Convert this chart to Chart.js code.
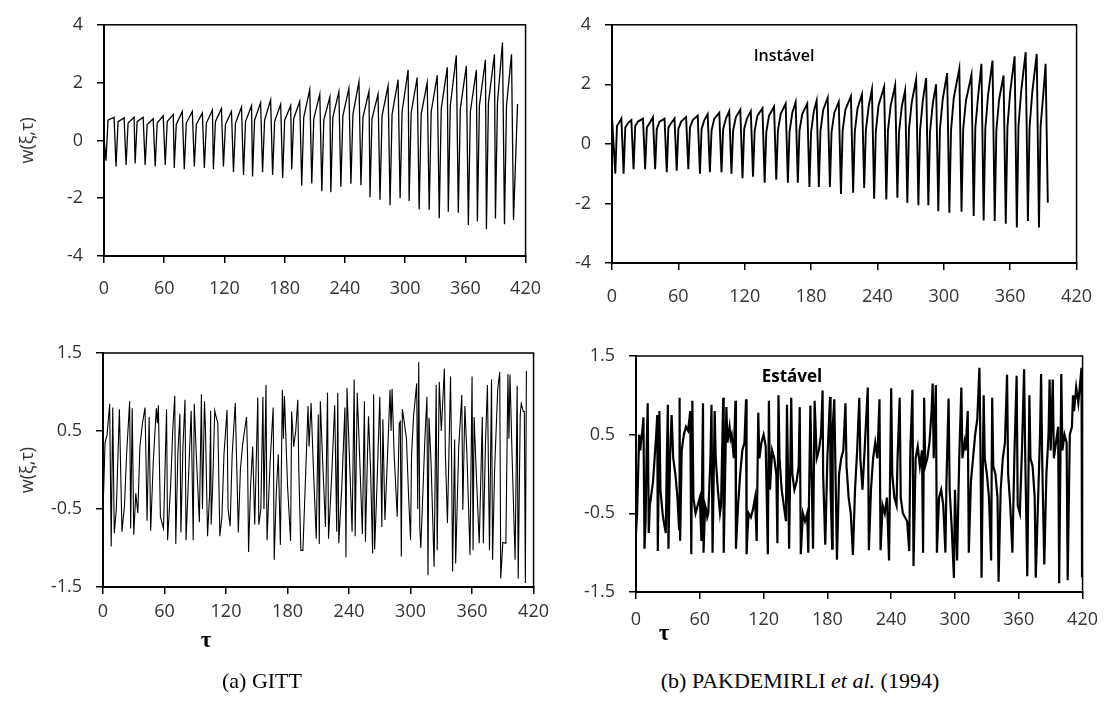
<!DOCTYPE html>
<html lang="pt">
<head>
<meta charset="UTF-8">
<title>w(ξ,τ) - GITT x PAKDEMIRLI et al. (1994)</title>
<script src="https://cdn.jsdelivr.net/npm/chart.js"></script>
<style>
  body { margin: 0; background: #fff; }
  #page { position: relative; width: 1108px; height: 705px; overflow: hidden; }
  #page canvas { position: absolute; }
  .lbl { position: absolute; white-space: nowrap; transform: translate(-50%, -50%); color: #000; }
  .note { font-family: "Open Sans", sans-serif; font-size: 16px; }
  .tau { font-family: "Liberation Serif", serif; font-weight: bold; font-size: 23px; }
  .cap { font-family: "Liberation Serif", serif; font-size: 22px; }
</style>
</head>
<body>
<div id="page">
  <canvas id="cA" width="556" height="310" style="left:0;top:0"></canvas>
  <canvas id="cB" width="552" height="310" style="left:556px;top:0"></canvas>
  <canvas id="cC" width="556" height="310" style="left:0;top:320px"></canvas>
  <canvas id="cD" width="552" height="310" style="left:556px;top:320px"></canvas>

  <div class="lbl note" style="left:784px;top:55px;font-weight:600">Instável</div>
  <div class="lbl note" style="left:792px;top:375px;font-weight:700;font-size:17px">Estável</div>
  <div class="lbl tau" style="left:206px;top:640px">τ</div>
  <div class="lbl tau" style="left:664px;top:633px">τ</div>
  <div class="lbl cap" style="left:262px;top:681px">(a) GITT</div>
  <div class="lbl cap" style="left:800px;top:681px">(b) PAKDEMIRLI <i>et al.</i> (1994)</div>
</div>

<script>
// axis ticks
const xTicks = [0, 60, 120, 180, 240, 300, 360, 420];
const yTicksTop = [-4, -2, 0, 2, 4];
const yTicksBottom = [-1.5, -0.5, 0.5, 1.5];

// (a) GITT - instavel
const tauA = [0,
  2,4,10, 12,14,20, 22,24,30, 31,33,39, 41,43,49, 51,53,59, 61,63,69,
  70,72,78, 80,82,88, 90,92,98, 100,102,108, 109,111,117, 119,121,127,
  129,131,137, 139,141,147, 148,150,156, 158,160,166, 168,170,176,
  178,180,186, 187,189,195, 197,199,205, 207,209,215, 217,219,225,
  226,228,234, 236,238,244, 246,248,254, 256,258,264, 265,267,273,
  275,277,283, 285,287,293, 295,297,303, 304,306,312, 314,316,322,
  324,326,332, 334,336,342, 343,345,351, 353,355,361, 363,365,371,
  372,374,380, 381,383,389, 390,392,397, 399,401,406,
  408,412];
const wA = [0.1,
  -0.70,0.70,0.80, -0.90,0.65,0.78, -0.85,0.60,0.80, -0.80,0.65,0.80, -0.85,0.55,0.75,
  -0.90,0.60,0.85, -0.85,0.65,0.90, -0.95,0.55,1.00, -1.00,0.60,1.00, -0.90,0.55,0.95,
  -0.95,0.60,1.05, -1.00,0.65,1.10, -0.90,0.55,1.00, -1.10,0.60,1.15, -1.20,0.65,1.20,
  -1.25,0.70,1.30, -1.10,0.70,1.40, -1.20,0.65,1.25, -1.30,0.70,1.20, -1.00,0.75,1.35,
  -1.57,0.80,1.76, -1.49,0.75,1.60, -1.76,0.70,1.50, -1.79,0.80,1.68, -1.60,0.85,1.80,
  -1.50,0.90,2.03, -1.55,0.80,1.70, -1.97,0.75,1.60, -2.05,0.85,1.88, -2.24,0.90,2.10,
  -2.00,1.00,2.44, -2.10,0.95,2.17, -2.39,0.90,2.00, -2.40,1.00,2.25, -2.69,1.10,2.53,
  -2.47,1.20,2.94, -2.50,1.10,2.58, -2.93,1.00,2.44, -2.81,1.20,2.79, -3.07,1.30,2.98,
  -2.70,1.30,3.39, -2.90,1.20,2.98,
  -2.75,1.26];

// (b) PAKDEMIRLI - instavel
const tauB = [0,
  3,4.5,7,8.5, 10.5,12,14.5,17.5, 19.5,21,23.5,28, 30,31.5,34,37, 39,40.5,43,47.5,
  49.5,51,53.5,56.5, 58.5,60,62.5,67, 69,70.5,73,77.5, 79.5,81,83.5,86.5, 88.5,90,92.5,97,
  99,100.5,103,106, 108,109.5,112,116, 118,119.5,122,125.5, 127.5,129,131.5,136,
  138,139.5,142,146.5, 148.5,150,152.5,157, 159,160.5,163,166, 168,169.5,172,176.5,
  178.5,180,182.5,185, 187,188.5,191,195, 197,198.5,201,205, 207,208.5,211,216,
  218,219.5,222,226, 228,229.5,232,235, 237,238.5,241,246, 248,249.5,252,256,
  258,259.5,262,265, 267,268.5,271,275, 277,278.5,281,284, 286,287.5,290,293,
  295,296.5,299,303, 305,306.5,309,314, 316,317.5,320,325, 327,328.5,331,334,
  336,337.5,340,344, 346,347.5,350,354, 356,357.5,360,364, 366,367.5,370,374,
  376,377.5,380,384, 386,387.5,390,392,
  394];
const wB = [0.9,
  -1.00,0.60,0.75,0.85, -1.00,0.55,0.70,0.80, -0.85,0.60,0.75,0.85, -0.85,0.55,0.70,0.90,
  -0.85,0.50,0.75,0.85, -0.95,0.55,0.70,0.85, -0.90,0.50,0.75,0.90, -0.85,0.55,0.80,0.95,
  -1.00,0.50,0.80,1.00, -0.95,0.45,0.85,1.05, -0.95,0.50,0.85,1.10, -1.00,0.45,0.90,1.15,
  -1.15,0.50,0.85,1.10, -1.10,0.45,0.95,1.20, -1.30,0.40,0.95,1.25, -1.20,0.45,1.00,1.35,
  -1.30,0.40,1.05,1.40, -1.30,0.45,1.00,1.35, -1.45,0.40,1.10,1.45, -1.45,0.45,1.15,1.55,
  -1.45,0.40,1.05,1.41, -1.68,0.45,1.15,1.60, -1.64,0.40,1.20,1.66, -1.48,0.45,1.25,1.83,
  -1.84,0.40,1.30,1.91, -1.87,0.45,1.30,1.97, -1.81,0.40,1.25,1.80, -1.98,0.50,1.40,2.17,
  -2.06,0.45,1.45,2.21, -2.06,0.40,1.35,2.00, -2.26,0.50,1.50,2.38, -2.31,0.45,1.55,2.52,
  -2.28,0.50,1.45,2.32, -2.42,0.55,1.60,2.69, -2.57,0.50,1.65,2.80, -2.59,0.45,1.50,2.30,
  -2.68,0.55,1.75,2.94, -2.81,0.60,1.80,3.08, -2.59,0.55,1.75,3.02, -2.81,0.60,1.70,2.69,
  -1.98];

// (a) GITT - estavel
const tauC = [0,2,4,6.5,8,9.5,11,13,16,18.5,21,23,26,27,28.5,30,32,34,36,38.5,41,43,45,46.5,49,
  52,53,54,56,59,62,63,66,68,70,71,73,75,76,78,80,81,84,86,88,89,91,94,96,97,99,100,102,104,
  105,105.5,107,109,110,112,114,116,118,121,122,124,126,129,130,132,134,136,138,140,141,142,
  144,146,148,151,152,154,156,157,159,160,163,166,167,
  169,171,173,175,176,177,180,183,184,186,188,190,191,193,195,197,200,201,203,205,208,210,
  211,212,214,217,219,220,223,226,228,229,230,233,236,237,238,240,243,245,246,248,250,253,
  255,256,258,259,261,263,264,265,267,270,272,273,275,277,280,281,282,284,287,289,290,291,
  292,294,296,298,300,301,303,306,307,308,309,310,312,314,316,317,318,320,323,325,326,328,
  330,333,334,336,339,340,341,343,344,347,350,351,353,355,358,360,361,362,364,367,370,371,
  373,375,377,379,380,382,385,387,388,390,393,395,396,397,399,402,404,405,407,408,410,411,
  412,413];
const wC = [-0.55,0.35,0.45,0.85,-0.98,0.8,-0.81,-0.5,0.78,-0.79,-0.45,0.2,0.88,-0.75,0.79,
  -0.83,-0.3,-0.55,0.3,0.6,0.8,-0.65,0.68,-0.78,0.1,0.79,0.6,0.83,-0.6,-0.75,0.78,-0.9,-0.2,
  0.5,0.95,-0.95,0.2,0.72,-0.8,0.3,0.9,-0.9,0.1,0.76,-0.9,0.85,0.2,-0.67,0.97,-0.5,0.88,0.5,
  -0.85,-0.3,0.76,-0.7,-0.2,0.76,0.7,0.6,-0.85,-0.6,0.2,0.77,-0.5,-0.72,0.2,0.86,0.3,-0.8,
  0.0,0.3,0.5,0.68,0.2,-1.05,-0.2,0.3,-0.7,0.93,-0.7,-0.5,0.94,-0.5,1.09,-0.9,0.1,0.8,-1.15,
  -0.3,0.2,-0.96,1.03,0.4,0.95,-0.2,-0.91,0.75,0.3,0.5,0.9,0.0,-1.03,-1.03,-0.3,0.82,0.3,
  0.86,0.1,-0.88,0.71,-0.95,0.88,0.2,-0.73,0.99,-0.88,-0.1,0.83,-0.79,0.99,-0.94,-0.2,0.8,
  -1.12,1.05,0.3,-0.79,1.16,-0.85,0.99,0.3,-0.82,0.88,-0.92,0.2,0.69,0.0,-1.07,0.97,-1.02,
  -0.3,0.94,-0.73,0.65,-0.64,0.0,1.03,0.5,1.04,0.2,-0.6,0.6,0.62,-1.11,0.78,0.6,0.4,-0.3,
  -0.9,0.2,0.7,1.11,-0.5,1.38,-0.73,-1.0,-0.3,0.4,0.94,-1.35,0.67,0.1,-1.24,1.09,-1.03,1.13,
  0.5,1.3,0.2,-0.68,1.2,0.2,-1.3,0.39,-1.2,0.3,0.96,-0.51,0.82,0.2,-1.09,1.2,-1.03,0.68,0.0,
  -0.94,0.68,-0.94,0.3,1.09,-1.03,1.16,-1.15,0.0,1.03,1.26,-1.39,-0.93,-0.94,1.23,0.4,1.22,
  0.2,-1.15,1.08,-1.39,0.7,0.85,0.75,0.75,-1.45,1.27];

// (b) PAKDEMIRLI - estavel
const tauD = [0,1,2,3,4,5,6,7,8,9,10,11,12,13,14,16,18,19,20,20.5,22,23,25,26,28,29,30,30.5,
  32,33.5,35,37,39,40.5,41,41.5,43,45,47,49,51,52,53,54,56,58,60,61.5,63,63.5,65,66,67,68,70,
  71,72,74,75,77,79,80,82,82.5,85,86,87,88,89,90,92,93.5,94,96,98,100,102,103.5,104,105,106,
  108,110,112,113.5,115,116,118,120,122,124,125,126,128,130,132,133,134,135,137,139,141,142,
  144,146,147,149,151,153,154,155,157,159,161,162,164,165,166.5,168,170,172,174,175.5,176,
  178,180,182.5,183,184.5,185,186.5,189,191,193,195,197,198,200,202,204,206,208,210,211,213,
  215,218,219,221,223,225,227,229,230,232,234,236,238,240,241,243,245,246,248,249,251,253,
  255,257,258,260,261,263,265,267,269,270,271,272,274,276,278,279,280,282,283,285,287,289,
  291,292,294,295,297,299,300,302,304,306,307,309,310,312,313,315,317,319,321,323,324,325,
  327,328,330,332,334,335,336,338,340,341,343,345,347,349,350,352,354,356,358,359,361,363,
  365,366,368,370,371,373,375,376,378,380,381,382,384,386,388,389,390,392,393,395,397,398,
  400,401,403,405,406,408,410,411,412,414,416,418,419,419.5,420];
const wD = [-0.75,-0.5,0.0,0.5,0.3,0.45,0.55,0.72,-0.95,-0.6,0.3,0.9,-0.75,-0.4,-0.3,-0.1,
  0.3,0.5,0.75,-0.98,0.8,-0.2,-0.5,-0.6,-0.75,0.2,0.88,-0.95,0.2,0.75,0.2,0.0,-0.3,-0.7,0.97,
  -0.85,0.3,0.5,0.6,0.55,0.8,-1.02,0.93,-0.3,-0.5,-0.4,-0.3,-0.85,0.9,-1.0,-0.4,-0.45,-0.55,
  -0.5,0.2,0.88,-1.0,0.8,0.2,-0.2,-0.5,-0.4,0.97,-1.0,0.85,0.4,0.5,0.6,0.45,0.5,0.2,0.93,
  -0.95,-0.4,0.0,0.3,0.4,0.95,-1.02,-0.7,-0.5,-0.55,-0.45,-0.3,-0.85,0.78,0.2,0.4,0.5,0.35,
  -1.02,0.93,-0.2,0.3,0.2,0.0,-0.88,1.0,0.2,-0.2,-0.4,-0.6,0.88,-0.95,0.97,0.0,-0.2,-0.1,0.1,
  0.85,-1.02,-0.5,-0.6,-0.5,-1.0,0.87,0.1,-0.95,0.93,0.2,0.3,0.5,1.06,0.0,-0.9,0.2,0.98,-0.2,
  -0.95,0.6,0.95,-1.09,0.0,0.2,0.3,0.9,0.1,-0.3,-0.5,-1.03,-0.2,0.3,0.97,0.2,-0.2,0.3,1.1,
  -0.97,-0.2,0.2,0.4,0.2,0.95,-0.97,-0.4,-0.5,-0.3,-1.1,1.09,0.0,-0.3,-0.4,0.2,0.97,-0.3,-0.5,
  -0.55,-0.6,-0.98,0.3,1.07,-1.17,0.2,0.35,0.1,0.3,-1.0,0.97,0.1,0.2,0.4,0.8,1.15,0.2,1.13,
  -1.0,-0.3,-0.2,-0.4,-1.0,-0.1,0.96,-0.2,-0.7,-1.32,-0.2,-1.1,0.2,1.1,0.2,0.4,0.3,0.8,-1.0,
  -0.1,0.2,0.5,0.7,1.35,0.3,-1.32,1.0,0.2,0.0,-0.3,-1.1,0.97,0.1,0.0,-0.3,-1.37,-0.2,0.2,0.4,
  1.26,0.0,-0.4,-1.0,0.3,1.25,-0.4,-0.5,0.3,1.33,0.3,-1.3,1.0,0.2,0.1,-0.3,-1.32,-0.4,0.5,
  1.27,0.2,-1.15,0.0,0.5,1.2,0.3,1.2,0.2,0.4,0.6,-1.39,1.27,0.3,0.5,0.4,-1.35,0.5,0.6,1.0,
  0.8,1.1,0.9,1.2,1.35,-1.3,0.9];

Chart.defaults.font.family = "'Open Sans', sans-serif";
Chart.defaults.font.size = 18;
Chart.defaults.color = '#333';

// plot frame (top and right sides of the box)
const framePlugin = {
  id: 'frame',
  afterDraw(chart) {
    const a = chart.chartArea, ctx = chart.ctx;
    ctx.save();
    ctx.strokeStyle = '#000';
    ctx.lineWidth = 1.5;
    ctx.strokeRect(a.left, a.top, a.right - a.left, a.bottom - a.top);
    ctx.restore();
  }
};

function makePanel(id, tau, w, yTicks, o) {
  const pts = tau.map((t, i) => ({ x: t, y: w[i] }));
  return new Chart(document.getElementById(id), {
    type: 'line',
    data: {
      datasets: [{
        data: pts,
        borderColor: '#000',
        borderWidth: o.lw,
        pointRadius: 0,
        tension: 0,
        fill: false
      }]
    },
    options: {
      responsive: false,
      animation: false,
      devicePixelRatio: 1,
      layout: { padding: { top: o.padTop, right: o.padRight, left: 0, bottom: 0 } },
      plugins: { legend: { display: false }, tooltip: { enabled: false } },
      scales: {
        x: {
          type: 'linear',
          min: 0,
          max: 420,
          afterBuildTicks: s => { s.ticks = xTicks.map(v => ({ value: v })); },
          afterFit: s => { s.height = o.xH; },
          ticks: { padding: o.xPad, maxRotation: 0, autoSkip: false },
          grid: { drawOnChartArea: false, drawTicks: true, tickLength: 7, color: '#000', lineWidth: 1.5 },
          border: { display: true, color: '#000', width: 2 }
        },
        y: {
          min: yTicks[0],
          max: yTicks[yTicks.length - 1],
          afterBuildTicks: s => { s.ticks = yTicks.map(v => ({ value: v })); },
          afterFit: s => { s.width = o.yW; },
          ticks: { padding: 14, callback: v => String(v) },
          grid: { drawOnChartArea: false, drawTicks: true, tickLength: 7, color: '#000', lineWidth: 1.5 },
          border: { display: true, color: '#000', width: 2 },
          title: {
            display: o.yTitle,
            text: 'w(ξ,τ)',
            color: '#333',
            font: { size: 18 },
            padding: { top: 17, bottom: 0 }
          }
        }
      }
    },
    plugins: [framePlugin]
  });
}

makePanel('cA', tauA, wA, yTicksTop,    { lw: 1.3, padTop: 21, padRight: 27, yW: 104, xH: 54, xPad: 15, yTitle: true });
makePanel('cB', tauB, wB, yTicksTop,    { lw: 1.9, padTop: 22, padRight: 30, yW: 56,  xH: 47, xPad: 16, yTitle: false });
makePanel('cC', tauC, wC, yTicksBottom, { lw: 1.1, padTop: 33, padRight: 20, yW: 103, xH: 43, xPad: 7,  yTitle: true });
makePanel('cD', tauD, wD, yTicksBottom, { lw: 2.2, padTop: 36, padRight: 24, yW: 80,  xH: 38, xPad: 10, yTitle: false });
</script>
</body>
</html>
